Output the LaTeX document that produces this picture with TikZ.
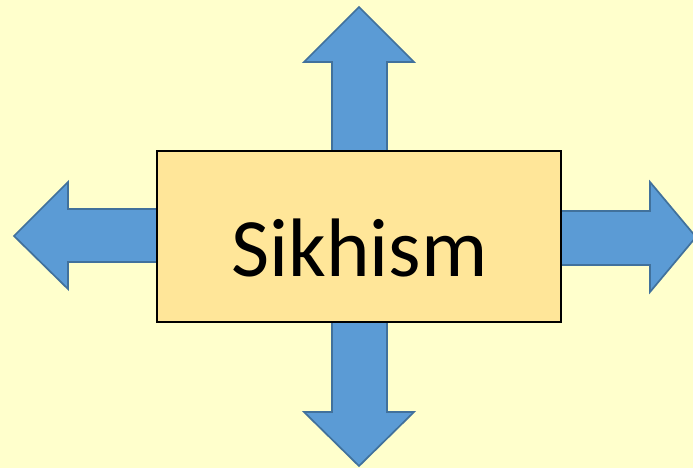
\documentclass[tikz,border=0pt]{standalone}
\usepackage{fontspec}
\setmainfont{Carlito}
\usepackage{tikz}
\usetikzlibrary{positioning}
\definecolor{pagebg}{HTML}{FFFFCC}
\definecolor{boxfill}{HTML}{FFE699}
\definecolor{arrowfill}{HTML}{5B9BD5}
\definecolor{arrowline}{HTML}{41719C}

\begin{document}
\begin{tikzpicture}[x=1pt, y=-1pt,
    topic/.style={rectangle, draw=black, line width=1.2pt, fill=boxfill,
                  minimum width=404pt, minimum height=171pt, inner sep=0pt},
    title/.style={inner sep=0pt, font=\fontsize{83}{90}\selectfont},
    blockarrow/.style={fill=arrowfill, draw=arrowline, line width=1.7pt, line join=miter}
]
    % background
    \fill[pagebg] (0,0) rectangle (693,468);
    \useasboundingbox (0,0) rectangle (693,468);

    % arrows behind the box
    \draw[blockarrow] (332,152) -- (332,62) -- (304,62) -- (359,7) -- (414,62)
        -- (387,62) -- (387,152) -- cycle;
    \draw[blockarrow] (332,322) -- (332,412) -- (304,412) -- (359,466) -- (414,412)
        -- (387,412) -- (387,322) -- cycle;
    \draw[blockarrow] (158,209) -- (68,209) -- (68,182) -- (14,236) -- (68,289)
        -- (68,262) -- (158,262) -- cycle;
    \draw[blockarrow] (560,211) -- (650,211) -- (650,182) -- (696,237) -- (650,292)
        -- (650,265) -- (560,265) -- cycle;

    % central topic
    \node[topic] (sikhism) at (359,236.5) {};
    \node[title, anchor=base] (label) at (359.5,276) {Sikhism};
\end{tikzpicture}
\end{document}
